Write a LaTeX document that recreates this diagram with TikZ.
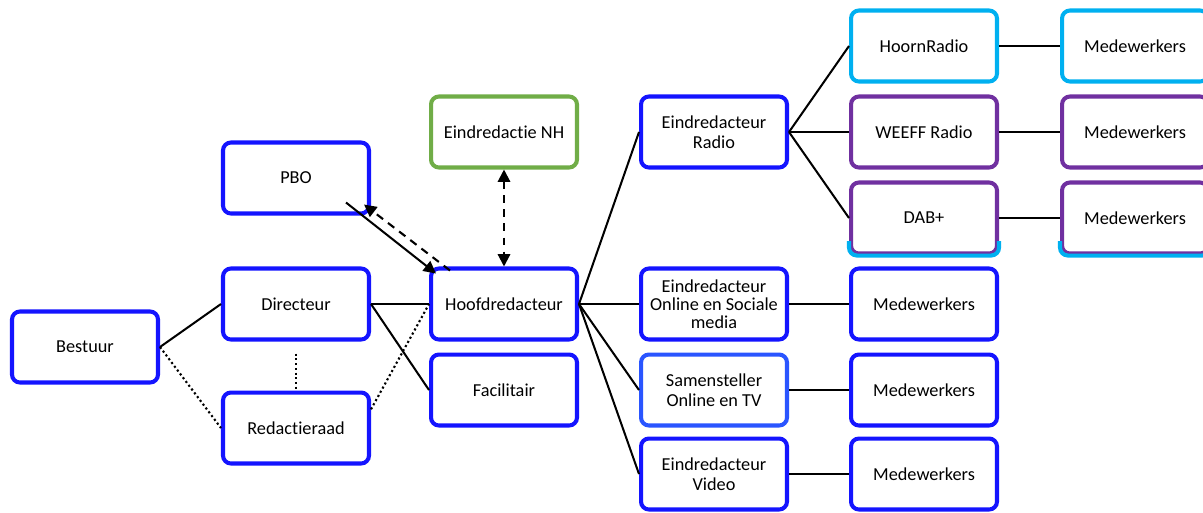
\documentclass[tikz,border=0pt]{standalone}
\usepackage{fontspec}
\setmainfont{Carlito}[Ligatures=NoCommon]
\usetikzlibrary{arrows.meta,calc}
\begin{document}
\begin{tikzpicture}[x=0.02cm, y=-0.02cm,
  box/.style={draw=boxblue, line width=2.3pt, rounded corners=4.5pt, fill=white, minimum width=2.92cm, minimum height=1.42cm, align=center, inner sep=1pt},
  link/.style={line width=1.15pt},
  dots/.style={line width=1.2pt, dash pattern=on 1.2pt off 1.5pt},
  dashes/.style={line width=1.2pt, dash pattern=on 4.5pt off 3.5pt},
  tip/.style={-{Triangle[length=7pt,width=7pt]}},
  font=\fontsize{10.4}{11.4}\selectfont]
\definecolor{boxblue}{HTML}{1414FF}
\definecolor{lightblue}{HTML}{2A55FF}
\definecolor{radiocyan}{HTML}{00B0F0}
\definecolor{radiopurple}{HTML}{7030A0}
\definecolor{nhgreen}{HTML}{70AD47}
\useasboundingbox (0,0) rectangle (1203,512);
\node[box] (bestuur) at (85,347) {Bestuur};
\node[box] (pbo) at (296,178) {PBO};
\node[box] (dir) at (296,304) {Directeur};
\node[box] (red) at (296,428) {Redactieraad};
\node[box] (hoofd) at (504,304) {Hoofdredacteur};
\node[box] (facil) at (504,390) {Facilitair};
\node[box, draw=nhgreen] (nh) at (504,132) {Eindredactie NH};
\node[box] (radio) at (714,132) {Eindredacteur\\Radio};
\node[box, font=\fontsize{10.4}{10.3}\selectfont] (online) at (714,304) {Eindredacteur\\Online en Sociale\\media};
\node[box, draw=lightblue] (samen) at (714,390) {Samensteller\\Online en TV};
\node[box] (video) at (714,474) {Eindredacteur\\Video};
\node[box] (medonline) at (924,304) {Medewerkers};
\node[box] (medsamen) at (924,390) {Medewerkers};
\node[box] (medvideo) at (924,474) {Medewerkers};
\node[box, draw=radiocyan] (hoorn) at (924,46) {HoornRadio};
\node[box, draw=radiopurple] (weeff) at (924,132) {WEEFF Radio};
\node[box, draw=radiopurple] (dab) at (924,218) {DAB+};
\node[box, draw=radiocyan] (medhoorn) at (1135,46) {Medewerkers};
\node[box, draw=radiopurple] (medweeff) at (1135,132) {Medewerkers};
\node[box, draw=radiopurple] (meddab) at (1135,218) {Medewerkers};
\foreach \n in {dab,meddab} {
  \begin{scope}
  \clip ($(\n.south west)+(-10,-14)$) rectangle ($(\n.south east)+(10,10)$);
  \draw[radiocyan, line width=2.3pt, rounded corners=4.5pt] (\n.south west) rectangle (\n.north east);
  \end{scope}
}
\coordinate (pboout) at ($(pbo.south east)+(-25,-13)$);
\coordinate (hoofdin) at ($(hoofd.north west)+(7,7)$);
\coordinate (hoofdout) at ($(hoofd.north west)+(21,4)$);
\coordinate (pboin) at ($(pbo.south east)+(-7,-11)$);
\draw[link] (bestuur.east) -- (dir.west);
\draw[dots] (bestuur.east) -- (red.west);
\draw[dots, shorten <=0.24cm] (dir.south) -- (red.north);
\draw[link] (dir.east) -- (hoofd.west);
\draw[link] (dir.east) -- (facil.west);
\draw[dots] (red.14) -- (hoofd.west);
\draw[link, tip] (pboout) -- (hoofdin);
\draw[dashes, tip] (hoofdout) -- (pboin);
\draw[dashes, {Triangle[length=7pt,width=7pt]}-{Triangle[length=7pt,width=7pt]}] (nh.south) -- (hoofd.north);
\foreach \n in {radio,online,samen,video} \draw[link] (hoofd.east) -- (\n.west);
\foreach \n in {hoorn,weeff,dab} \draw[link] (radio.east) -- (\n.west);
\draw[link] (online) -- (medonline);
\draw[link] (samen) -- (medsamen);
\draw[link] (video) -- (medvideo);
\draw[link] (hoorn) -- (medhoorn);
\draw[link] (weeff) -- (medweeff);
\draw[link] (dab) -- (meddab);
\end{tikzpicture}
\end{document}
